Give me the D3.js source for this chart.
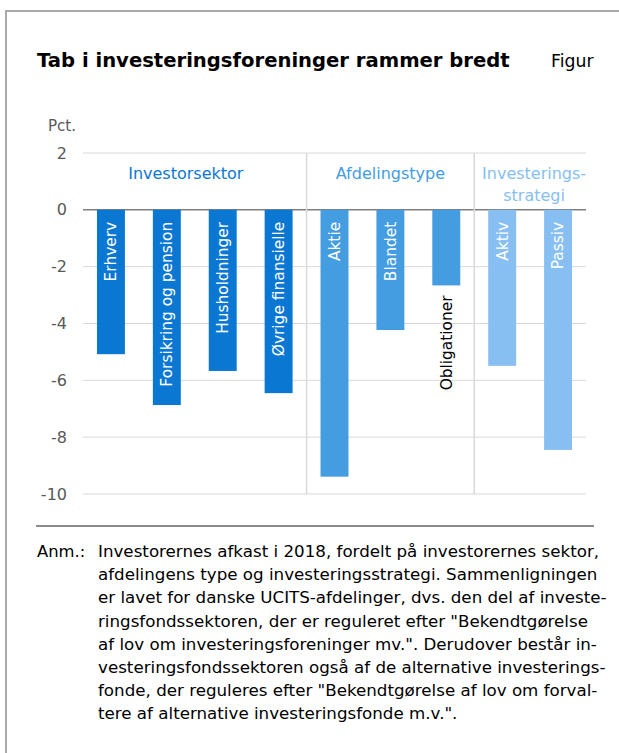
<!DOCTYPE html>
<html>
<head>
<meta charset="utf-8">
<script src="https://cdn.jsdelivr.net/npm/d3@7"></script>
<style>
  body { margin: 0; background: #fff; }
  svg { display: block; }
</style>
</head>
<body>
<div id="chart"></div>
<script>
// Data
const groups = ["Investorsektor", "Afdelingstype", "Investeringsstrategi"];
const categories = ["Erhverv", "Forsikring og pension", "Husholdninger", "Øvrige finansielle",
  "Aktie", "Blandet", "Obligationer", "Aktiv", "Passiv"];
const categoryGroup = [0, 0, 0, 0, 1, 1, 1, 2, 2];
const values = [-5.08, -6.87, -5.67, -6.45, -9.39, -4.23, -2.66, -5.49, -8.45];
const yTicks = [2, 0, -2, -4, -6, -8, -10];
const groupLabels = [["Investorsektor"], ["Afdelingstype"], ["Investerings-", "strategi"]];
const noteLines = [
  "Investorernes afkast i 2018, fordelt på investorernes sektor,",
  "afdelingens type og investeringsstrategi. Sammenligningen",
  "er lavet for danske UCITS-afdelinger, dvs. den del af investe-",
  "ringsfondssektoren, der er reguleret efter \"Bekendtgørelse",
  "af lov om investeringsforeninger mv.\". Derudover består in-",
  "vesteringsfondssektoren også af de alternative investerings-",
  "fonde, der reguleres efter \"Bekendtgørelse af lov om forval-",
  "tere af alternative investeringsfonde m.v.\"."
];

const W = 619, H = 753;
const groupColors = ["#0a77d2", "#439de0", "#87bff2"];
const font = "'DejaVu Sans', Verdana, sans-serif";

const svg = d3.select("#chart").append("svg")
  .attr("width", W).attr("height", H)
  .style("font-family", font);

// frame
svg.append("rect")
  .attr("x", 6).attr("y", 11).attr("width", 700).attr("height", 900)
  .attr("fill", "none").attr("stroke", "#a9a9a9").attr("stroke-width", 2);

svg.append("text")
  .attr("x", 37).attr("y", 67)
  .attr("font-size", 19.6).attr("font-weight", 700).attr("fill", "#000")
  .text("Tab i investeringsforeninger rammer bredt");

svg.append("text")
  .attr("x", 551).attr("y", 67)
  .attr("font-size", 17.3).attr("fill", "#000")
  .text("Figur");

svg.append("text")
  .attr("x", 48).attr("y", 131)
  .attr("font-size", 15).attr("fill", "#595959")
  .text("Pct.");

// scales
const x = d3.scaleBand().domain(categories).range([83, 586])
  .paddingInner(0.5).paddingOuter(0.25);
const y = d3.scaleLinear().domain([-10, 2]).range([494, 153]);

// gridlines
svg.append("g").selectAll("line").data(yTicks).join("line")
  .attr("x1", 83).attr("x2", 586)
  .attr("y1", d => y(d)).attr("y2", d => y(d))
  .attr("stroke", d => d === 0 ? "#7f7f7f" : "#d9d9d9")
  .attr("stroke-width", d => d === 0 ? 1.5 : 1);

// y axis labels (plain hyphen for negatives, as in the original)
const yAxis = svg.append("g")
  .attr("transform", "translate(83,0)")
  .call(d3.axisLeft(y).tickValues(yTicks).tickFormat(d => String(d))
    .tickSize(0).tickPadding(16));
yAxis.select(".domain").remove();
yAxis.selectAll("text")
  .attr("font-family", font).attr("font-size", 16).attr("fill", "#595959");

// group separators
const step = x.step();
const bounds = [];
categoryGroup.forEach((g, i) => {
  if (i > 0 && g !== categoryGroup[i - 1]) bounds.push(83 + step * i);
});
svg.append("g").selectAll("line").data(bounds).join("line")
  .attr("x1", d => d).attr("x2", d => d)
  .attr("y1", y(2)).attr("y2", y(-10))
  .attr("stroke", "#d9d9d9").attr("stroke-width", 1.5);

// group labels
const edges = [83, ...bounds, 586];
const labelShift = [-9, 0, 4];
groups.forEach((g, gi) => {
  const cx = (edges[gi] + edges[gi + 1]) / 2 + labelShift[gi];
  const t = svg.append("text")
    .attr("x", cx).attr("y", 179)
    .attr("text-anchor", "middle")
    .attr("font-size", 16).attr("fill", groupColors[gi]);
  groupLabels[gi].forEach((line, li) => {
    t.append("tspan").attr("x", cx).attr("dy", li === 0 ? 0 : 22).text(line);
  });
});

// bars
const data = categories.map((c, i) => ({ name: c, value: values[i], group: categoryGroup[i] }));
svg.append("g").selectAll("rect").data(data).join("rect")
  .attr("x", d => x(d.name))
  .attr("width", x.bandwidth())
  .attr("y", y(0))
  .attr("height", d => y(d.value) - y(0))
  .attr("fill", d => groupColors[d.group]);

// bar labels, rotated, inside the bar at its base unless they do not fit
const labels = svg.append("g").selectAll("text").data(data).join("text")
  .attr("text-anchor", "end")
  .attr("dy", "0.35em")
  .attr("font-size", 15.4)
  .text(d => d.name);
labels.each(function (d) {
  const len = this.getComputedTextLength();
  const cx = x(d.name) + x.bandwidth() / 2;
  const barLen = y(d.value) - y(0);
  const inside = len + 16 < barLen;
  const top = inside ? y(0) + 12 : y(d.value) + 10;
  d3.select(this)
    .attr("transform", `translate(${cx},${top}) rotate(-90)`)
    .attr("fill", inside ? "#fff" : "#000");
});

// rule under chart
svg.append("line")
  .attr("x1", 36).attr("x2", 594).attr("y1", 526).attr("y2", 526)
  .attr("stroke", "#8c8c8c").attr("stroke-width", 2);

// note
svg.append("text")
  .attr("x", 37).attr("y", 557)
  .attr("font-size", 16.4).attr("fill", "#000")
  .text("Anm.:");
svg.append("g").selectAll("text").data(noteLines).join("text")
  .attr("x", 98)
  .attr("y", (d, i) => 557 + i * 23.2)
  .attr("font-size", 16.7).attr("fill", "#000")
  .text(d => d);
</script>
</body>
</html>
